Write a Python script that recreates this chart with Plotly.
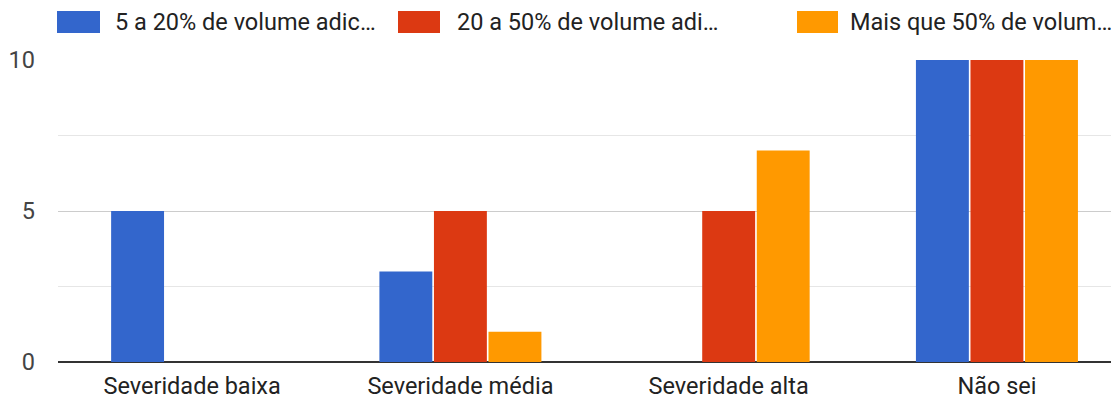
import plotly.graph_objects as go

categories = ["Severidade baixa", "Severidade média", "Severidade alta", "Não sei"]
series_names = ["5 a 20% de volume adic…", "20 a 50% de volume adi…", "Mais que 50% de volum…"]
vol_5_20 = [5, 3, 0, 10]
vol_20_50 = [0, 5, 5, 10]
vol_50_plus = [0, 1, 7, 10]
colors = ["#3366cc", "#dc3912", "#ff9900"]
y_ticks = [0, 5, 10]

# page body has an 8px default margin; compensate so the plot lands where the reference has it
OFF = 8
W, H = 1111, 395
ML, MR, MT, MB = 50, 0, 52, 41
PW, PH = W - ML - MR, H - MT - MB
FONT = "Roboto, Arial, sans-serif"
FS = 23.5

def px_x(s):
    return (s - OFF - ML) / PW

def px_y(s):
    return (H - MB - (s - OFF)) / PH

fig = go.Figure()
for name, vals, col in zip(series_names, [vol_5_20, vol_20_50, vol_50_plus], colors):
    fig.add_trace(go.Bar(x=categories, y=vals, name=name, marker=dict(color=col, line=dict(width=0)),
                         showlegend=False))

shapes = []
annotations = []
legend_pos = [(57, 100, 113), (398, 440, 455), (797, 838, 848)]
for (x0, x1, tx), name, col in zip(legend_pos, series_names, colors):
    shapes.append(dict(type="rect", xref="paper", yref="paper",
                       x0=px_x(x0), x1=px_x(x1), y0=px_y(33), y1=px_y(11),
                       fillcolor=col, line=dict(width=0)))
    annotations.append(dict(text=name, xref="paper", yref="paper", x=px_x(tx), y=px_y(22),
                            xanchor="left", yanchor="middle", showarrow=False,
                            font=dict(family=FONT, size=FS, color="#222222")))

fig.update_layout(
    width=W, height=H,
    margin=dict(l=ML, r=MR, t=MT, b=MB, pad=0),
    paper_bgcolor="white", plot_bgcolor="white",
    barmode="group", bargap=0.39, bargroupgap=0.03,
    shapes=shapes, annotations=annotations,
    font=dict(family=FONT, size=FS, color="#444444"),
    xaxis=dict(range=[-0.5, 3.455], showgrid=False, ticks="", showline=False,
               ticklabelstandoff=7,
               tickfont=dict(size=FS, color="#222222")),
    yaxis=dict(range=[0, 10], tickvals=y_ticks, showgrid=True, gridcolor="#cccccc", gridwidth=1,
               zeroline=True, zerolinecolor="#333333", zerolinewidth=1.5,
               ticks="", ticklabelstandoff=22,
               minor=dict(dtick=2.5, showgrid=True, gridcolor="#e6e6e6", gridwidth=1),
               tickfont=dict(size=FS, color="#444444")),
)

fig.write_html("out.html")
